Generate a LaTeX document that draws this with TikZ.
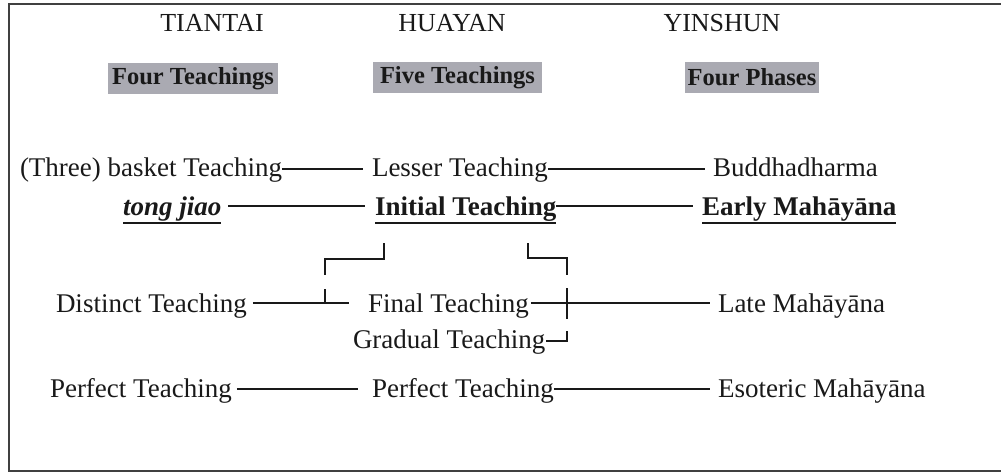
\documentclass[tikz,border=0pt]{standalone}
\usepackage{fontspec}
\setmainfont{Liberation Serif}
\definecolor{tagfill}{RGB}{170,170,178}
\definecolor{ink}{RGB}{25,25,25}
\begin{document}
\begin{tikzpicture}[x=1pt,y=-1pt,
  txt/.style={inner sep=0pt, outer sep=0pt, anchor=base west, text=ink, font=\fontsize{27}{32}\selectfont},
  btxt/.style={txt, font=\fontsize{27}{32}\selectfont\bfseries},
  hd/.style={inner sep=0pt, outer sep=0pt, anchor=base, text=ink, font=\fontsize{26}{30}\selectfont},
  tag/.style={fill=tagfill, inner sep=0pt, minimum height=31pt, text=ink, font=\fontsize{24.5}{28}\selectfont\bfseries},
  con/.style={line width=1.6pt, draw=ink},
  ul/.style={line width=1.6pt, draw=ink},
  frame/.style={line width=2.2pt, draw=black!75}
]
\useasboundingbox (0,0) rectangle (1001,473);
% frame
\draw[frame] (1001,4) -- (9,4) -- (9,471) -- (1001,471);
% headers
\node[hd] (tt) at (212,32) {TIANTAI};
\node[hd] (hy) at (452,32) {HUAYAN};
\node[hd] (ys) at (722,32) {YINSHUN};
\node[tag, minimum width=170pt] (t4) at (193,79) {Four Teachings};
\node[tag, minimum width=169pt] (h5) at (457.5,78) {Five Teachings};
\node[tag, minimum width=134pt] (y4) at (752,77.5) {Four Phases};
% rows
\node[txt] (basket) at (20,177) {(Three) basket Teaching};
\node[txt] (lesser) at (372,177) {Lesser Teaching};
\node[txt] (buddha) at (713,177) {Buddhadharma};
\node[txt, font=\fontsize{27}{32}\selectfont\bfseries\itshape] (tong) at (123,215) {tong jiao};
\node[btxt] (init) at (375,215) {Initial Teaching};
\node[btxt] (early) at (702,215) {Early Mahāyāna};
\node[txt] (distinct) at (56,312) {Distinct Teaching};
\node[txt] (final) at (368,312) {Final Teaching};
\node[txt] (late) at (718,312) {Late Mahāyāna};
\node[txt] (gradual) at (353,348) {Gradual Teaching};
\node[txt] (perf1) at (50,397) {Perfect Teaching};
\node[txt] (perf2) at (372,397) {Perfect Teaching};
\node[txt] (eso) at (718,397) {Esoteric Mahāyāna};
% underlines
\foreach \n in {tong,init,early}
  \draw[ul] ([yshift=-8pt]\n.base west) -- ([yshift=-8pt]\n.base east);
% horizontal connectors
\draw[con] ([yshift=8pt]basket.base east) -- ([xshift=-9pt,yshift=8pt]lesser.base west);
\draw[con] ([yshift=8pt]lesser.base east) -- ([xshift=-8pt,yshift=8pt]buddha.base west);
\draw[con] ([xshift=7pt,yshift=9pt]tong.base east) -- ([xshift=-10pt,yshift=9pt]init.base west);
\draw[con] ([yshift=9pt]init.base east) -- ([xshift=-9pt,yshift=9pt]early.base west);
\draw[con] ([xshift=6pt,yshift=9pt]distinct.base east) -- ([xshift=-19pt,yshift=9pt]final.base west);
\draw[con] ([xshift=2pt,yshift=9pt]final.base east) -- ([xshift=-8pt,yshift=9pt]late.base west);
\draw[con] ([xshift=5pt,yshift=8pt]perf1.base east) -- ([xshift=-14pt,yshift=8pt]perf2.base west);
\draw[con] ([yshift=8pt]perf2.base east) -- ([xshift=-8pt,yshift=8pt]eso.base west);
% brackets
\coordinate (lb) at (384,243);
\coordinate (lbe) at (325,275);
\coordinate (rb) at (528,243);
\coordinate (rbe) at (567,275);
\draw[con] (lb) -- ++(0,16) -| (lbe);
\draw[con] (rb) -- ++(0,15) -| (rbe);
% T stem and cross
\coordinate (ts) at (325,289);
\draw[con] (ts) -- ++(0,14.5);
\coordinate (cs) at (567,288);
\draw[con] (cs) -- ++(0,31);
% corner after Gradual Teaching
\coordinate (gc) at (567,331);
\draw[con] ([xshift=1pt,yshift=7pt]gradual.base east) -| (gc);
\end{tikzpicture}
\end{document}
